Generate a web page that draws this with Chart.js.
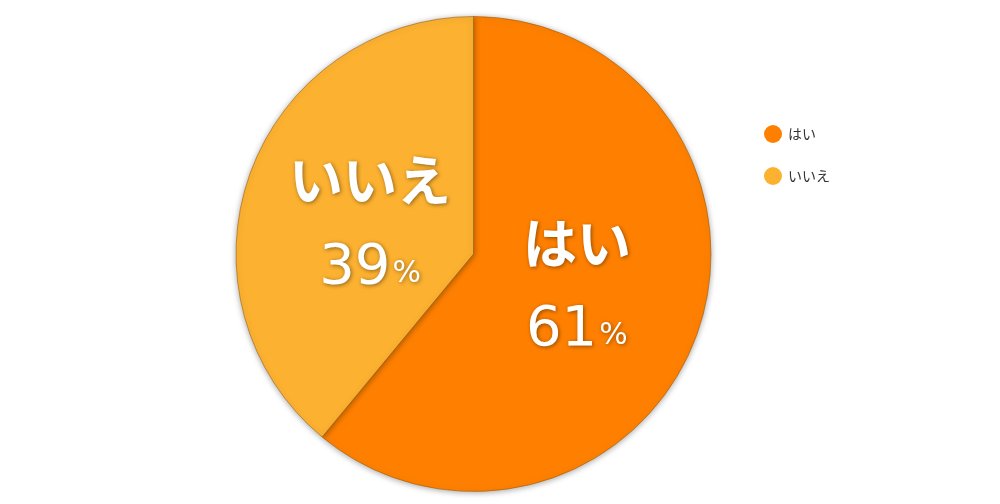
<!DOCTYPE html>
<html>
<head>
<meta charset="utf-8">
<script src="https://cdn.jsdelivr.net/npm/chart.js@4"></script>
<style>
  html, body { margin: 0; padding: 0; background: #fff; }
  #wrap { width: 1000px; height: 504px; }
</style>
</head>
<body>
<div id="wrap"><canvas id="chart"></canvas></div>
<script>
const labels = ['はい', 'いいえ'];
const values = [61, 39];
const colors = ['#FF8000', '#FCB130'];

const FONT = '"Noto Sans CJK JP", "Noto Sans", sans-serif';
const NUMFONT = '"DejaVu Sans", sans-serif';

// shadow round the pie
const pieShadow = {
    id: 'pieShadow',
    beforeDatasetsDraw(chart) {
        const ctx = chart.ctx;
        ctx.save();
        ctx.shadowColor = 'rgba(0,0,0,0.35)';
        ctx.shadowBlur = 6;
        ctx.shadowOffsetX = 0;
        ctx.shadowOffsetY = 1;
    },
    afterDatasetsDraw(chart) {
        chart.ctx.restore();
    }
};

// name + percent inside each slice
const sliceLabels = {
    id: 'sliceLabels',
    afterDatasetsDraw(chart) {
        const ctx = chart.ctx;
        const meta = chart.getDatasetMeta(0);
        const total = values.reduce((a, b) => a + b, 0);
        meta.data.forEach((arc, i) => {
            const mid = (arc.startAngle + arc.endAngle) / 2 - 0.05;
            const r = arc.outerRadius * 0.455;
            const x = arc.x + Math.cos(mid) * r;
            const y = arc.y + Math.sin(mid) * r;
            ctx.save();
            ctx.shadowColor = 'rgba(0,0,0,0.45)';
            ctx.shadowBlur = 4;
            ctx.shadowOffsetX = 1;
            ctx.shadowOffsetY = 1;
            ctx.fillStyle = '#fff';
            ctx.textAlign = 'center';
            ctx.textBaseline = 'middle';
            ctx.font = 'bold 54px ' + FONT;
            ctx.fillText(labels[i], x, y - 42);
            const pct = Math.round(values[i] / total * 100);
            const num = String(pct);
            ctx.font = '56px ' + NUMFONT;
            const nw = ctx.measureText(num).width;
            ctx.font = '30px ' + NUMFONT;
            const pw = ctx.measureText('%').width;
            const sx = x - (nw + pw + 2) / 2;
            ctx.textAlign = 'left';
            ctx.textBaseline = 'alphabetic';
            ctx.font = '56px ' + NUMFONT;
            ctx.fillText(num, sx, y + 60);
            ctx.font = '30px ' + NUMFONT;
            ctx.fillText('%', sx + nw + 2, y + 59);
            ctx.restore();
        });
    }
};

// legend drawn on the right
const sideLegend = {
    id: 'sideLegend',
    afterDraw(chart) {
        const ctx = chart.ctx;
        ctx.save();
        labels.forEach((lab, i) => {
            const y = 134 + i * 42;
            ctx.beginPath();
            ctx.arc(773, y, 9, 0, Math.PI * 2);
            ctx.fillStyle = colors[i];
            ctx.fill();
            ctx.fillStyle = '#333';
            ctx.font = '14px ' + FONT;
            ctx.textBaseline = 'middle';
            ctx.fillText(lab, 788, y);
        });
        ctx.restore();
    }
};

new Chart(document.getElementById('chart'), {
    type: 'pie',
    data: {
        labels: labels,
        datasets: [{
            data: values,
            backgroundColor: colors,
            borderColor: 'rgba(150,90,10,0.55)',
            borderWidth: 1
        }]
    },
    options: {
        responsive: true,
        maintainAspectRatio: false,
        animation: false,
        layout: { padding: { top: 16, bottom: 12, left: 0, right: 53 } },
        plugins: {
            legend: { display: false },
            tooltip: { enabled: false }
        }
    },
    plugins: [pieShadow, sliceLabels, sideLegend]
});
</script>
</body>
</html>
